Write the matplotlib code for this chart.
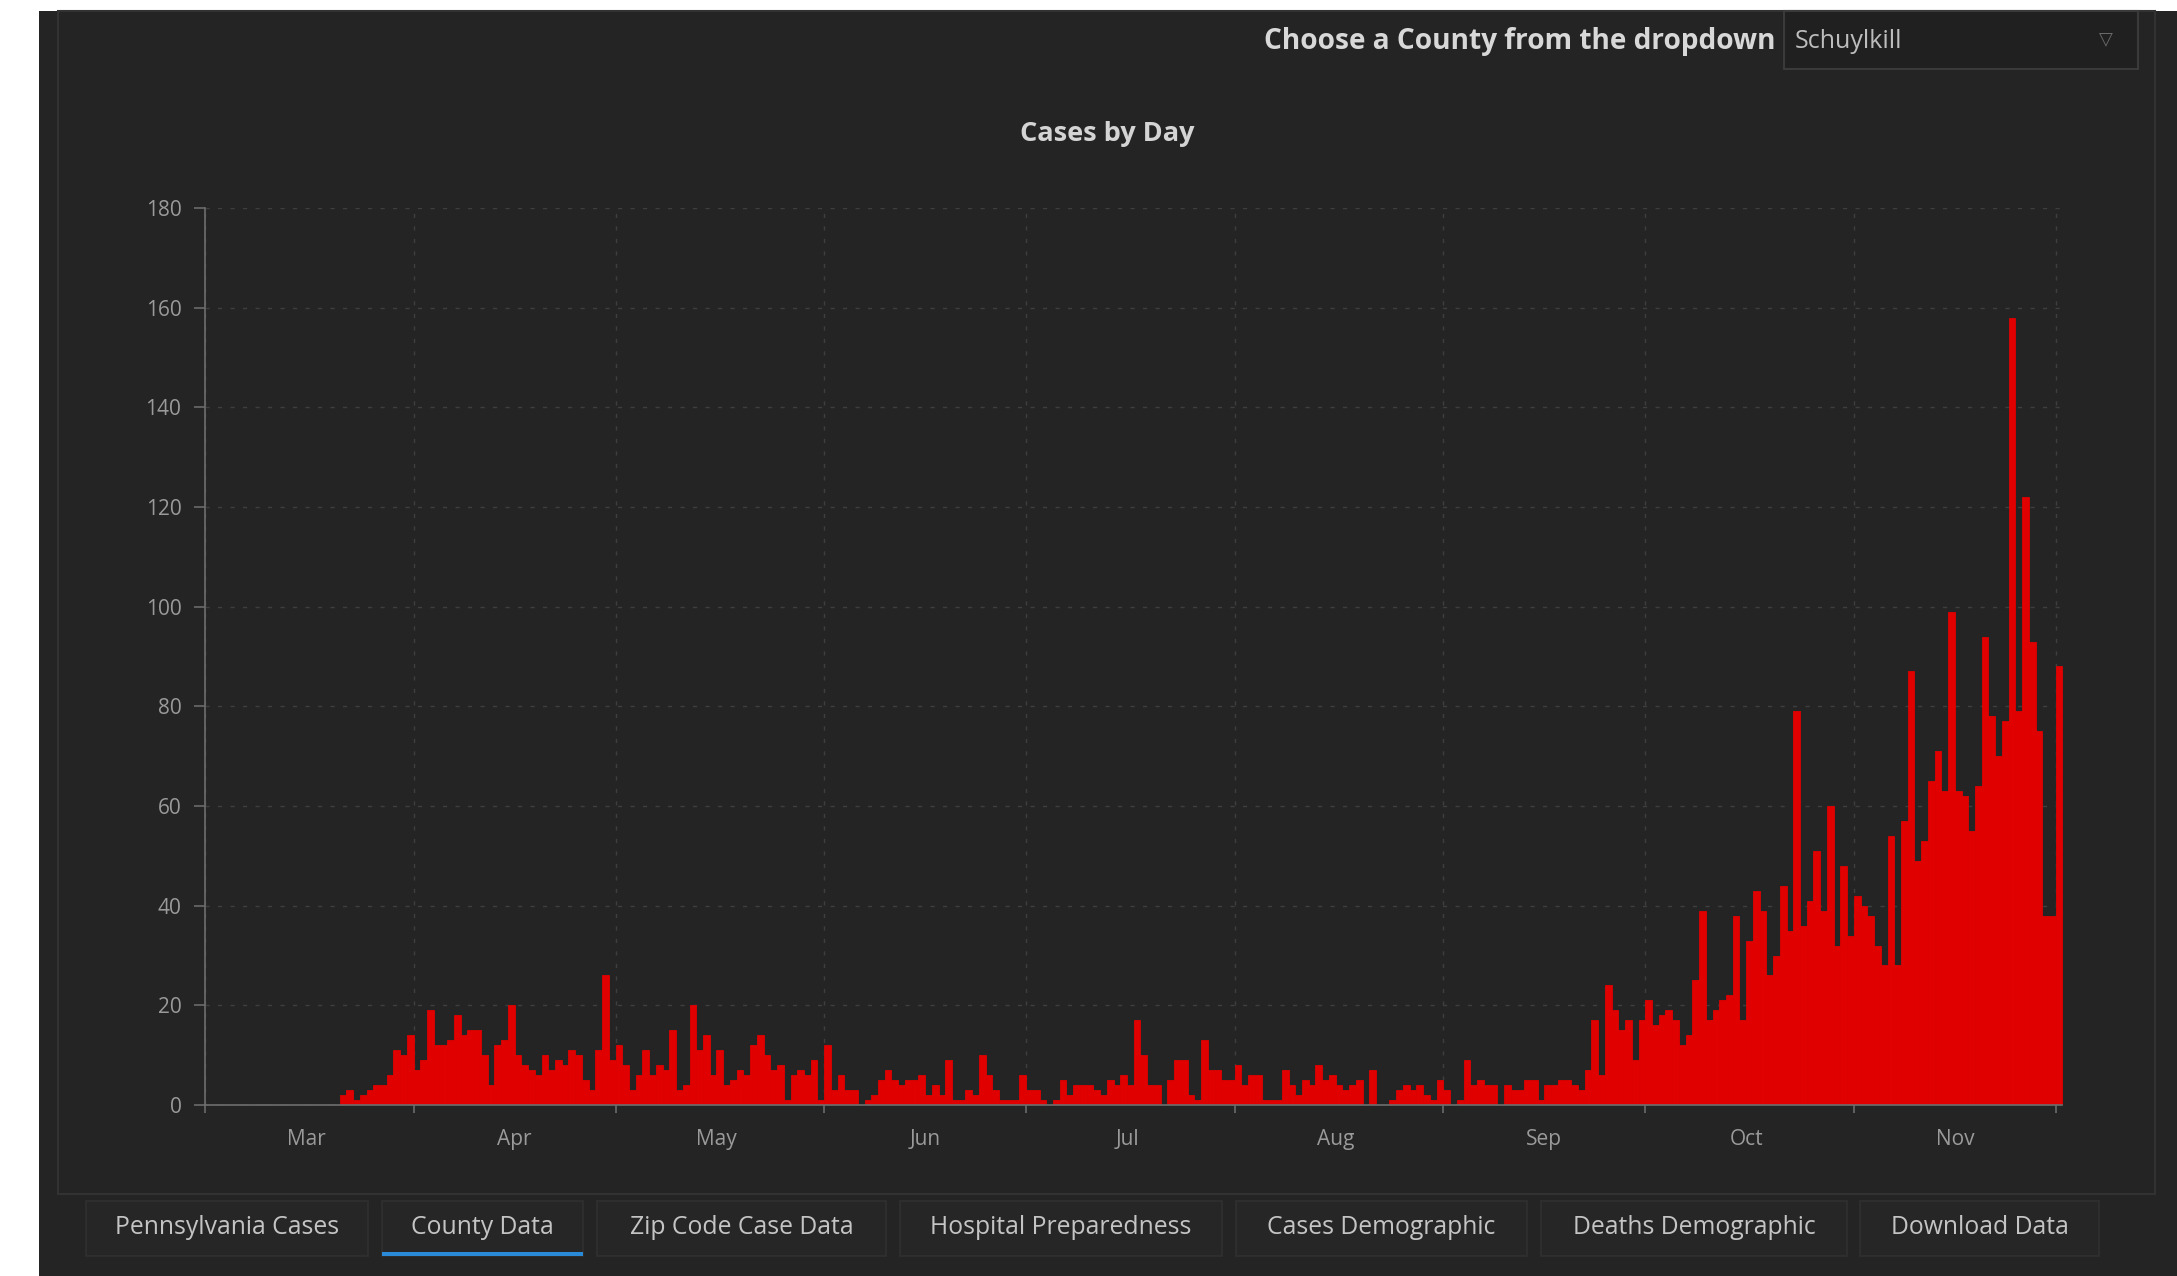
import matplotlib
matplotlib.use("Agg")
import matplotlib.pyplot as plt
import matplotlib.dates as mdates
from matplotlib.patches import Rectangle
from matplotlib.ticker import NullFormatter
import pandas as pd

# ---------------- data ----------------
start_date = "2020-03-01"
cases = [
    0, 0, 0, 0, 0, 0, 0, 0, 0, 0, 0, 0, 0, 0, 0, 0, 0, 0, 0, 0,
    2, 3, 1, 2, 3, 4, 4, 6, 11, 10,
    14, 7, 9, 19, 12, 12, 13, 18, 14, 15,
    15, 10, 4, 12, 13, 20, 10, 8, 7, 6,
    10, 7, 9, 8, 11, 10, 5, 3, 11, 26,
    9, 12, 8, 3, 6, 11, 6, 8, 7, 15,
    3, 4, 20, 11, 14, 6, 11, 4, 5, 7,
    6, 12, 14, 10, 7, 8, 1, 6, 7, 6,
    9, 1, 12, 3, 6, 3, 3, 0, 1, 2,
    5, 7, 5, 4, 5, 5, 6, 2, 4, 2,
    9, 1, 1, 3, 2, 10, 6, 3, 1, 1,
    1, 6, 3, 3, 1, 0, 1, 5, 2, 4,
    4, 4, 3, 2, 5, 4, 6, 4, 17, 10,
    4, 4, 0, 5, 9, 9, 2, 1, 13, 7,
    7, 5, 5, 8, 4, 6, 6, 1, 1, 1,
    7, 4, 2, 5, 4, 8, 5, 6, 4, 3,
    4, 5, 0, 7, 0, 0, 1, 3, 4, 3,
    4, 2, 1, 5, 3, 0, 1, 9, 4, 5,
    4, 4, 0, 4, 3, 3, 5, 5, 1, 4,
    4, 5, 5, 4, 3, 7, 17, 6, 24, 19,
    15, 17, 9, 17, 21, 16, 18, 19, 17, 12,
    14, 25, 39, 17, 19, 21, 22, 38, 17, 33,
    43, 39, 26, 30, 44, 35, 79, 36, 41, 51,
    39, 60, 32, 48, 34, 42, 40, 38, 32, 28,
    54, 28, 57, 87, 49, 53, 65, 71, 63, 99,
    63, 62, 55, 64, 94, 78, 70, 77, 158, 79,
    122, 93, 75, 38, 38, 88,
]
y_ticks = [0, 20, 40, 60, 80, 100, 120, 140, 160, 180]
chart_title = "Cases by Day"
dropdown_label = "Choose a County from the dropdown"
county = "Schuylkill"
tab_labels = ["Pennsylvania Cases", "County Data", "Zip Code Case Data",
              "Hospital Preparedness", "Cases Demographic",
              "Deaths Demographic", "Download Data"]
active_tab = "County Data"

dates = pd.date_range(start_date, periods=len(cases), freq="D")

# ---------------- layout (pixels) ----------------
W, H = 2177, 1276
tab_x = [(86, 368), (382, 583), (597, 886), (900, 1222),
         (1236, 1527), (1541, 1847), (1860, 2099)]

BG = "#242424"
RED = "#e00000"

plt.rcParams["font.family"] = ["Open Sans", "DejaVu Sans"]

fig = plt.figure(figsize=(W / 100, H / 100), dpi=100, facecolor="white")


def fx(x):
    return x / W


def fy(y):
    return 1 - y / H


# dark background with white margin left/top
fig.add_artist(Rectangle((fx(39), 0), 1 - fx(39), fy(11), transform=fig.transFigure,
                         facecolor=BG, edgecolor="none", zorder=-10))
# panel border
fig.add_artist(Rectangle((fx(58), fy(1194)), fx(2155) - fx(58), fy(11) - fy(1194),
                         transform=fig.transFigure, facecolor="none",
                         edgecolor="#323232", linewidth=1.5, zorder=-9))

# ---------------- chart ----------------
ax = fig.add_axes([fx(205), fy(1105), fx(2062.5) - fx(205), fy(208) - fy(1105)])
ax.set_facecolor(BG)
ax.bar(dates, cases, width=1.0, align="edge", color=RED, edgecolor=RED,
       linewidth=0.6, zorder=2)

ax.set_xlim(mdates.date2num(dates[0]), mdates.date2num(dates[-1]) + 1)
ax.set_ylim(0, 180)
ax.set_yticks(y_ticks)

ax.xaxis.set_major_locator(mdates.MonthLocator())
ax.xaxis.set_major_formatter(NullFormatter())
ax.xaxis.set_minor_locator(mdates.MonthLocator(bymonthday=16))
ax.xaxis.set_minor_formatter(mdates.DateFormatter("%b"))

ax.tick_params(axis="x", which="major", length=6, width=1.1, color="#707070",
               direction="out")
ax.tick_params(axis="x", which="minor", length=0, pad=17, labelsize=15,
               labelcolor="#9a9a9a")
ax.tick_params(axis="y", which="major", length=8, width=1.1, color="#707070",
               pad=9, labelsize=15, labelcolor="#9a9a9a")

ax.set_axisbelow(True)
ax.grid(True, which="major", axis="both", color="#3e3e3e",
        linestyle=(0, (3, 6)), linewidth=1.0)

for s in ("top", "right"):
    ax.spines[s].set_visible(False)
for s in ("left", "bottom"):
    ax.spines[s].set_color("#6e6e6e")
    ax.spines[s].set_linewidth(1.2)

# ---------------- texts ----------------
fig.text(fx(1107), fy(134), chart_title, ha="center", va="center",
         fontsize=19.5, fontweight="bold", color="#d4d4d4")
fig.text(fx(1775), fy(42), dropdown_label, ha="right", va="center",
         fontsize=20.2, fontweight="bold", color="#d8d8d8")

# dropdown box
fig.add_artist(Rectangle((fx(1784), fy(69)), fx(2138) - fx(1784), fy(11) - fy(69),
                         transform=fig.transFigure, facecolor="#202020",
                         edgecolor="#3a3a3a", linewidth=1.5))
fig.text(fx(1795), fy(41), county, ha="left", va="center",
         fontsize=18, color="#bdbdbd")
fig.text(fx(2106), fy(39), "\u25BD", ha="center", va="center",
         fontsize=13, color="#6a6a6a", family=["DejaVu Sans"])

# tabs
for label, (x0, x1) in zip(tab_labels, tab_x):
    fig.add_artist(Rectangle((fx(x0), fy(1256)), fx(x1) - fx(x0), fy(1201) - fy(1256),
                             transform=fig.transFigure, facecolor="#262626",
                             edgecolor="#303030", linewidth=1.2))
    fig.text(fx((x0 + x1) / 2), fy(1227), label, ha="center", va="center",
             fontsize=17.8, color="#c4c4c4")
    if label == active_tab:
        fig.add_artist(Rectangle((fx(x0), fy(1256)), fx(x1) - fx(x0), 4 / H,
                                 transform=fig.transFigure, facecolor="#2b8ad8",
                                 edgecolor="none"))

fig.savefig("out.png", dpi=100, facecolor=fig.get_facecolor())
